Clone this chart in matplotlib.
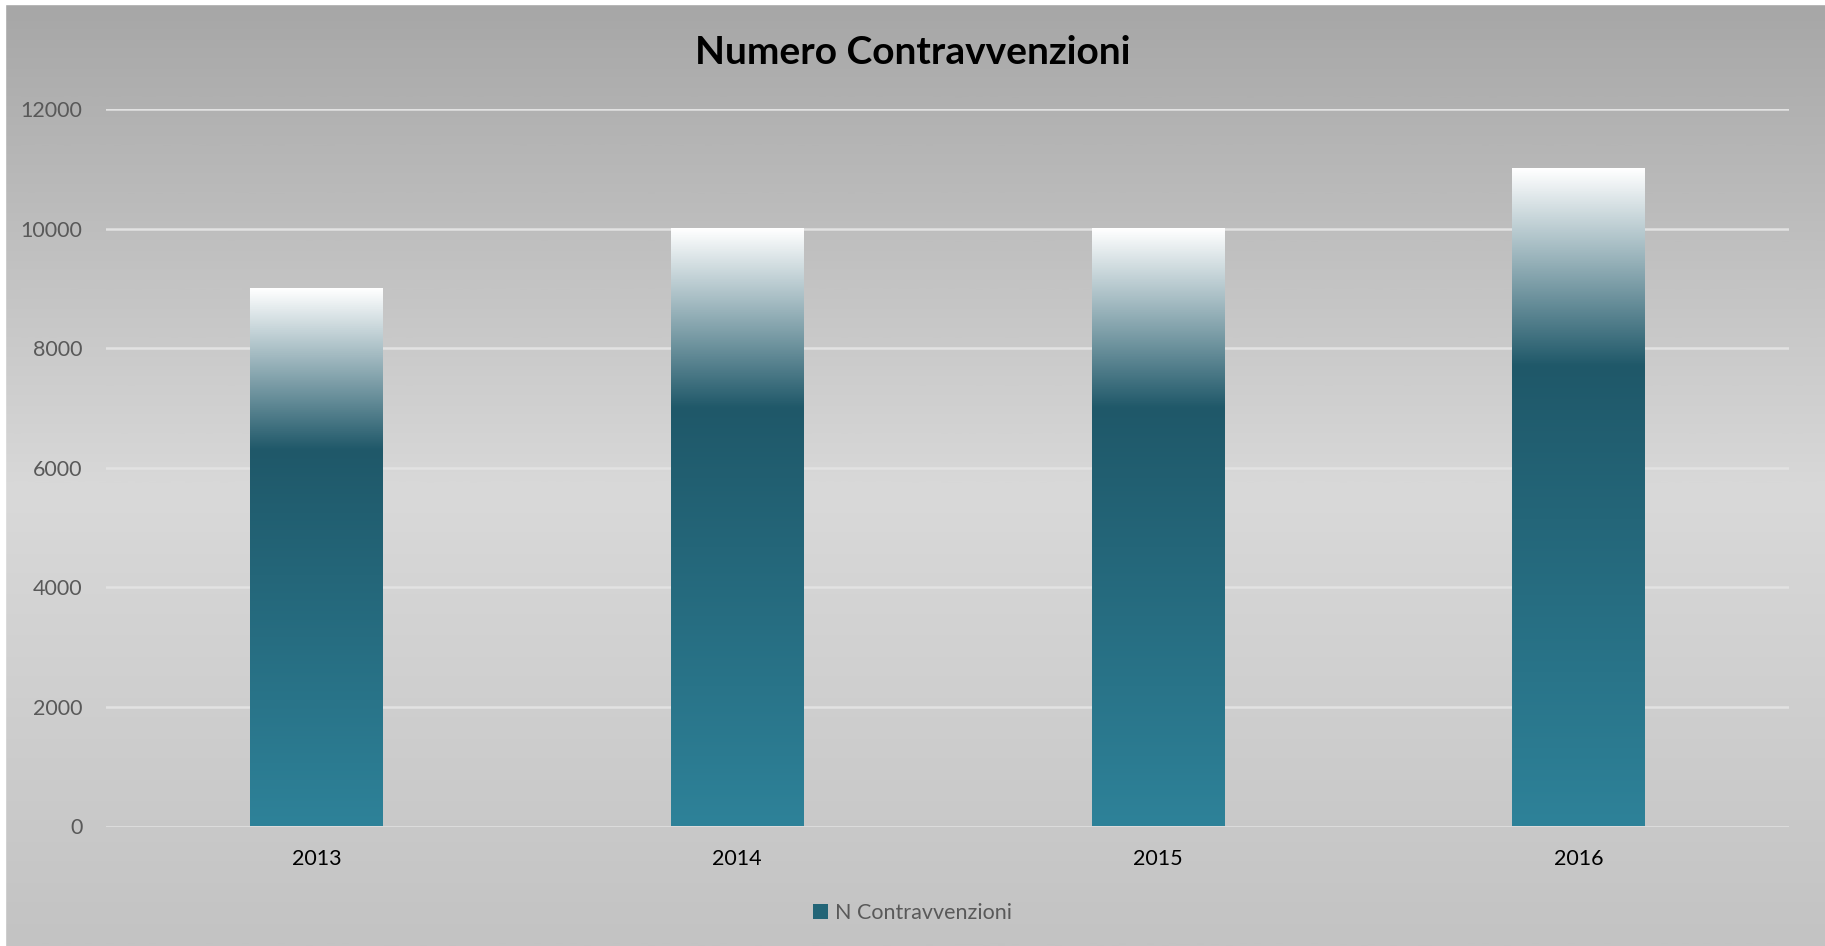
import numpy as np
import matplotlib.pyplot as plt
from matplotlib.colors import LinearSegmentedColormap
from matplotlib.patches import Rectangle

# data
years = ['2013', '2014', '2015', '2016']
values = [9000, 10000, 10000, 11000]
series_name = 'N Contravvenzioni'
title = 'Numero Contravvenzioni'
y_ticks = [0, 2000, 4000, 6000, 8000, 10000, 12000]

plt.rcParams['font.family'] = ['Lato', 'DejaVu Sans']

W, H = 1825, 946
fig = plt.figure(figsize=(W / 100, H / 100), dpi=100)

# background gradient (grey -> light grey -> grey)
bg = fig.add_axes([0, 0, 1, 1], zorder=-10)
bg_cmap = LinearSegmentedColormap.from_list(
    'bg', [(0.0, '#a6a6a6'), (0.52, '#d9d9d9'), (1.0, '#c3c3c3')])
grad = np.linspace(0, 1, 512).reshape(-1, 1)
bg.imshow(grad, cmap=bg_cmap, aspect='auto', extent=[0, 1, 1, 0])
bg.set_xlim(0, 1)
bg.set_ylim(1, 0)
bg.axis('off')
# thin white frame at left/top
bg.add_patch(Rectangle((0, 0), 5 / W, 1, color='white', transform=bg.transAxes, zorder=5))
bg.add_patch(Rectangle((0, 1 - 4 / H), 1, 4 / H, color='white', transform=bg.transAxes, zorder=5))

# plot area
left, right = 106 / W, 1789 / W
top, bottom = 109.4 / H, 826.5 / H
ax = fig.add_axes([left, 1 - bottom, right - left, bottom - top])
ax.set_facecolor('none')

bar_cmap = LinearSegmentedColormap.from_list(
    'bar', [(0.0, '#2e8299'), (0.70, '#1f5869'), (1.0, '#ffffff')])
bar_w = 0.315
x = np.arange(len(years))
for xi, v in zip(x, values):
    g = np.linspace(1, 0, 256).reshape(-1, 1)
    ax.imshow(g, cmap=bar_cmap, aspect='auto', vmin=0, vmax=1,
              extent=[xi - bar_w / 2, xi + bar_w / 2, 0, v], zorder=3)
ax.set_xlim(-0.5, len(years) - 0.5)
ax.set_ylim(0, 12000)

ax.set_yticks(y_ticks)
ax.set_yticklabels([str(t) for t in y_ticks])
ax.set_xticks(x)
ax.set_xticklabels(years)
ax.yaxis.grid(True, color='#e2e2e2', linewidth=1.8, zorder=0)
ax.set_axisbelow(True)
for s in ax.spines.values():
    s.set_visible(False)
ax.tick_params(axis='both', length=0)
ax.tick_params(axis='y', labelsize=15.5, labelcolor='#595959', pad=17)
ax.tick_params(axis='x', labelsize=15.5, labelcolor='#000000', pad=16)

fig.text(0.5, 1 - 53 / H, title, ha='center', va='center',
         fontsize=28, fontweight='bold', color='#000000')

# legend
handle = Rectangle((0, 0), 1, 1, facecolor='#236577', edgecolor='none')
fig.legend([handle], [series_name], loc='center', bbox_to_anchor=(0.5, 1 - 913 / H),
           frameon=False, fontsize=15.5, labelcolor='#595959',
           handlelength=0.7, handleheight=0.7, handletextpad=0.3)

fig.savefig('out.png', dpi=100)
